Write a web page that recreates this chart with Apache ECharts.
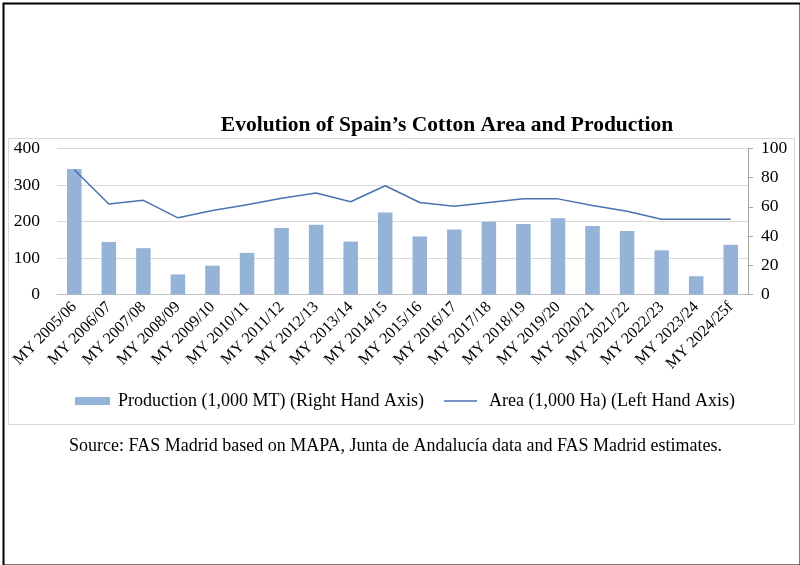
<!DOCTYPE html>
<html><head><meta charset="utf-8">
<script src="https://cdn.jsdelivr.net/npm/echarts@6/dist/echarts.min.js"></script>
<style>html,body{margin:0;padding:0;background:#fff}#c{width:800px;height:565px}</style>
</head><body><div id="c"></div>
<script>
const categories = ["MY 2005/06","MY 2006/07","MY 2007/08","MY 2008/09","MY 2009/10","MY 2010/11","MY 2011/12","MY 2012/13","MY 2013/14","MY 2014/15","MY 2015/16","MY 2016/17","MY 2017/18","MY 2018/19","MY 2019/20","MY 2020/21","MY 2021/22","MY 2022/23","MY 2023/24","MY 2024/25f"];
const production = [344,144,127,55,79,114,182,191,145,225,159,178,199,193,209,188,174,121,50,136];
const area = [85.5,62,64.5,52.5,57.5,61.5,66,69.5,63.5,74.5,63,60.5,63,65.5,65.5,61,57,51.5,51.5,51.5];
const leftTicks = [0,100,200,300,400];
const rightTicks = [0,20,40,60,80,100];
const titleText = "Evolution of Spain\u2019s Cotton Area and Production";
const sourceText = "Source: FAS Madrid based on MAPA, Junta de Andaluc\u00eda data and FAS Madrid estimates.";
const prodName = "Production (1,000 MT) (Right Hand Axis)";
const areaName = "Area (1,000 Ha) (Left Hand Axis)";

const serif = "'Liberation Serif','Times New Roman',serif";
const chart = echarts.init(document.getElementById('c'), null, {renderer:'canvas'});
chart.setOption({
  animation:false,
  backgroundColor:'#fff',
  textStyle:{fontFamily:serif},
  title:{text:titleText,left:442,textAlign:'center',top:109,
    textStyle:{fontFamily:serif,fontSize:21.5,fontWeight:'bold',color:'#000'}},
  graphic:[
    {type:'rect',left:1,top:1,shape:{width:797,height:562},style:{fill:null,stroke:'#000',lineWidth:2},z:-1},
    {type:'rect',left:6,top:136,shape:{width:786,height:286},style:{fill:null,stroke:'#d9d9d9',lineWidth:1},z:-1},
    {type:'text',left:69,top:437,style:{text:sourceText,font:"18px "+serif,fill:'#000'}}
  ],
  legend:[
    {top:387,left:70,itemWidth:35,itemHeight:8,
     textStyle:{fontFamily:serif,fontSize:18,color:'#000',padding:[0,0,0,3]},
     data:[{name:prodName,icon:'rect'}]},
    {top:387,left:439,itemWidth:33,itemHeight:1.5,
     textStyle:{fontFamily:serif,fontSize:18,color:'#000',padding:[0,0,0,7]},
     data:[{name:areaName,icon:'rect'}]}
  ],
  grid:{left:57,right:52,top:148.5,bottom:270.5,containLabel:false},
  xAxis:{type:'category',data:categories,
    axisLine:{lineStyle:{color:'#bfbfbf'}},
    axisTick:{show:false},
    axisLabel:{rotate:45,interval:0,margin:10,fontSize:16,color:'#000',fontFamily:serif}},
  yAxis:[
    {type:'value',min:0,max:400,interval:100,position:'left',
     axisLine:{show:false},axisTick:{show:false},
     splitLine:{lineStyle:{color:'#d9d9d9'}},
     axisLabel:{fontSize:17.5,color:'#000',fontFamily:serif,margin:17}},
    {type:'value',min:0,max:100,interval:20,position:'right',
     axisLine:{show:true,lineStyle:{color:'#a6a6a6'}},
     axisTick:{show:true,inside:false,length:5,lineStyle:{color:'#a6a6a6'}},
     splitLine:{show:false},
     axisLabel:{fontSize:17.5,color:'#000',fontFamily:serif,margin:13}}
  ],
  series:[
    {name:prodName,type:'bar',yAxisIndex:0,data:production,barCategoryGap:'58%',
     itemStyle:{color:'#95b3d7'}},
    {name:areaName,type:'line',yAxisIndex:1,data:area,symbol:'none',
     lineStyle:{color:'#4a72b0',width:1.5},itemStyle:{color:'#4a72b0'}}
  ]
});
</script></body></html>
